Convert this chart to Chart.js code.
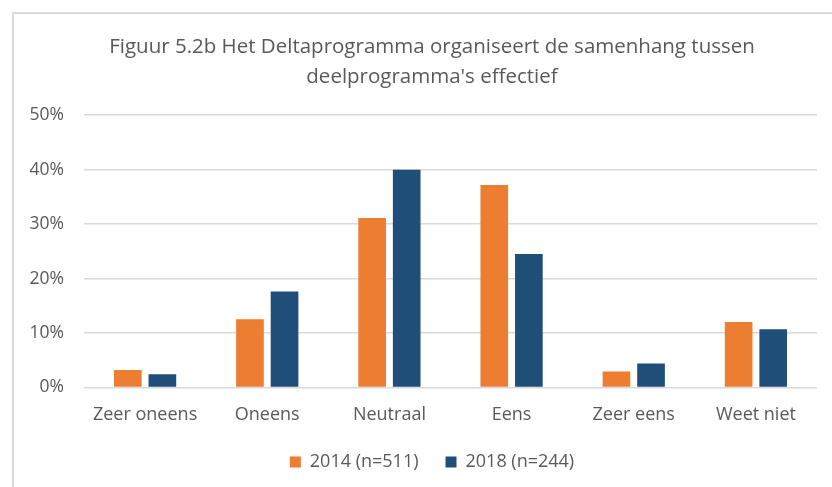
<!DOCTYPE html>
<html>
<head>
<meta charset="utf-8">
<script src="https://cdn.jsdelivr.net/npm/chart.js@4.4.1/dist/chart.umd.min.js"></script>
<style>
  html, body { margin: 0; padding: 0; background: #fff; }
  #wrap { position: relative; width: 832px; height: 487px; overflow: hidden; }
  #frame { position: absolute; left: 12px; top: 12px; right: -10px; bottom: -10px; border: 2px solid #d9d9d9; }
  #wrap canvas { position: absolute; left: 0; top: 0; }
</style>
</head>
<body>
<div id="wrap">
  <div id="frame"></div>
  <canvas id="chart" width="864" height="487"></canvas>
</div>
<script>
const titleLines = ['Figuur 5.2b Het Deltaprogramma organiseert de samenhang tussen', "deelprogramma's effectief"];
const categories = ['Zeer oneens', 'Oneens', 'Neutraal', 'Eens', 'Zeer eens', 'Weet niet'];
const seriesNames = ['2014 (n=511)', '2018 (n=244)'];
const values2014 = [3.2, 12.5, 31.1, 37.2, 2.9, 12.0];
const values2018 = [2.4, 17.6, 40.0, 24.5, 4.4, 10.7];
const yTicks = [0, 10, 20, 30, 40, 50];

const textColor = '#595959';
const font = 'Open Sans';

// canvas is 864 wide (clipped to 832) so title + legend centre on x=432;
// an empty right axis keeps the plot ending at x=817
new Chart(document.getElementById('chart'), {
  type: 'bar',
  data: {
    labels: categories,
    datasets: [
      { label: seriesNames[0], data: values2014, backgroundColor: '#ED7D31' },
      { label: seriesNames[1], data: values2018, backgroundColor: '#1F4E79' }
    ]
  },
  options: {
    responsive: false,
    animation: false,
    categoryPercentage: 0.566,
    barPercentage: 0.8,
    layout: { padding: { left: 0, right: 0, top: 0, bottom: 6 } },
    plugins: {
      title: {
        display: true,
        text: titleLines,
        color: textColor,
        font: { family: font, size: 20.5, weight: 'normal', lineHeight: 1.42 },
        padding: { top: 33, bottom: 24 }
      },
      legend: {
        position: 'bottom',
        labels: {
          color: textColor,
          font: { family: font, size: 18 },
          boxWidth: 11,
          boxHeight: 11,
          padding: 27
        }
      },
      tooltip: { enabled: false }
    },
    scales: {
      x: {
        grid: { display: false },
        border: { display: false },
        afterFit: s => { s.height -= 9; },
        ticks: { color: textColor, font: { family: font, size: 18 }, padding: 9, maxRotation: 0 }
      },
      y: {
        min: yTicks[0],
        max: yTicks[yTicks.length - 1],
        afterBuildTicks: s => { s.ticks = yTicks.map(v => ({ value: v })); },
        afterFit: s => { s.width = 84; },
        grid: { color: '#d9d9d9', lineWidth: 1.5, drawTicks: false },
        border: { display: false },
        ticks: { color: textColor, font: { family: font, size: 17.5 }, padding: 20, callback: v => v + '%' }
      },
      spacer: {
        type: 'linear',
        position: 'right',
        min: 0,
        max: 1,
        afterFit: s => { s.width = 47; },
        grid: { display: false },
        border: { display: false },
        ticks: { display: false }
      }
    }
  }
});
</script>
</body>
</html>
